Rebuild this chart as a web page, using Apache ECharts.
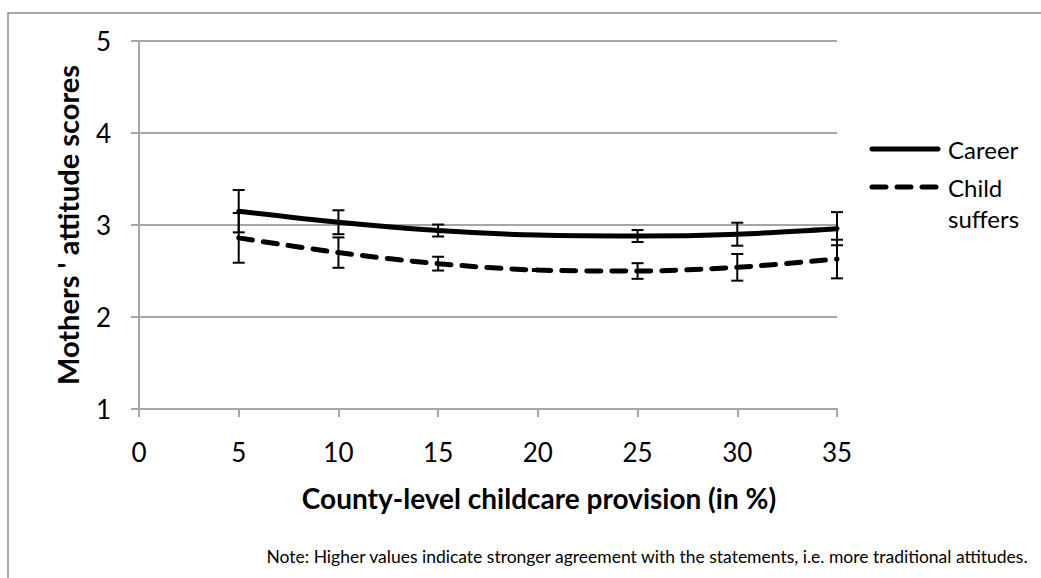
<!DOCTYPE html>
<html>
<head>
<meta charset="utf-8">
<script src="https://cdn.jsdelivr.net/npm/echarts@6/dist/echarts.min.js"></script>
<style>
  html, body { margin: 0; padding: 0; background: #fff; }
  #chart { width: 1041px; height: 578px; }
</style>
</head>
<body>
<div id="chart"></div>
<script>
// Childcare provision (%) on the x axis
const provision = [5, 10, 15, 20, 25, 30, 35];

// Mean attitude scores and half-widths of their confidence intervals
const careerMean = [3.15, 3.03, 2.94, 2.89, 2.88, 2.90, 2.96];
const careerErr  = [0.23, 0.13, 0.065, 0.01, 0.065, 0.125, 0.18];
const childMean  = [2.86, 2.70, 2.58, 2.51, 2.50, 2.54, 2.63];
const childErr   = [0.27, 0.165, 0.075, 0.01, 0.085, 0.145, 0.21];

const xTicks = { min: 0, max: 35, interval: 5 };
const yTicks = { min: 1, max: 5, interval: 1 };

const seriesNames = ['Career', 'Child suffers'];
const yTitle = "Mothers ' attitude scores";
const xTitle = 'County-level childcare provision (in %)';
const note = 'Note: Higher values indicate stronger agreement with the statements, i.e. more traditional attitudes.';

const FONT = 'Lato, "Open Sans", sans-serif';
const GRID_GRAY = '#a6a6a6';

function pairs(xs, ys) { return xs.map((x, i) => [x, ys[i]]); }
function errRows(xs, m, e) { return xs.map((x, i) => [x, m[i] - e[i], m[i] + e[i]]); }

function renderErrorBar(params, api) {
  const x = api.value(0);
  const lo = api.coord([x, api.value(1)]);
  const hi = api.coord([x, api.value(2)]);
  const half = 6;
  const style = { stroke: '#000', lineWidth: 2 };
  return {
    type: 'group',
    children: [
      { type: 'line', shape: { x1: lo[0], y1: lo[1], x2: hi[0], y2: hi[1] }, style },
      { type: 'line', shape: { x1: lo[0] - half, y1: lo[1], x2: lo[0] + half, y2: lo[1] }, style },
      { type: 'line', shape: { x1: hi[0] - half, y1: hi[1], x2: hi[0] + half, y2: hi[1] }, style }
    ]
  };
}

const chart = echarts.init(document.getElementById('chart'), null, { renderer: 'svg' });

chart.setOption({
  animation: false,
  backgroundColor: '#fff',
  grid: { left: 139, top: 41, width: 698, height: 368, containLabel: false },
  xAxis: {
    type: 'value',
    min: xTicks.min, max: xTicks.max, interval: xTicks.interval,
    axisLine: { show: true, lineStyle: { color: GRID_GRAY, width: 2 } },
    axisTick: { show: true, length: 8, lineStyle: { color: GRID_GRAY, width: 2 } },
    splitLine: { show: false },
    axisLabel: { margin: 30, color: '#000', fontSize: 26, fontFamily: FONT }
  },
  yAxis: {
    type: 'value',
    min: yTicks.min, max: yTicks.max, interval: yTicks.interval,
    axisLine: { show: true, lineStyle: { color: GRID_GRAY, width: 2 } },
    axisTick: { show: true, length: 8, lineStyle: { color: GRID_GRAY, width: 2 } },
    splitLine: { show: true, lineStyle: { color: GRID_GRAY, width: 2 } },
    axisLabel: { margin: 28, color: '#000', fontSize: 26, fontFamily: FONT }
  },
  series: [
    {
      name: seriesNames[0], type: 'line', data: pairs(provision, careerMean),
      showSymbol: false, symbol: 'none', smooth: 0.3, z: 3,
      lineStyle: { color: '#000', width: 5, cap: 'round' }
    },
    {
      name: seriesNames[1], type: 'line', data: pairs(provision, childMean),
      showSymbol: false, symbol: 'none', smooth: 0.3, z: 3,
      lineStyle: { color: '#000', width: 5, type: [14, 11], cap: 'round' }
    },
    {
      type: 'custom', renderItem: renderErrorBar, z: 4,
      data: errRows(provision, careerMean, careerErr)
    },
    {
      type: 'custom', renderItem: renderErrorBar, z: 4,
      data: errRows(provision, childMean, childErr)
    }
  ],
  graphic: [
    { type: 'rect', silent: true, shape: { x: 8, y: 13, width: 1100, height: 700 },
      style: { fill: 'none', stroke: '#8c8c8c', lineWidth: 1.5 } },
    { type: 'text', x: 67, y: 225, rotation: Math.PI / 2,
      style: { text: yTitle, font: 'bold 29px ' + FONT, fill: '#000', align: 'center', verticalAlign: 'middle' } },
    { type: 'text', x: 539, y: 498,
      style: { text: xTitle, font: 'bold 28px ' + FONT, fill: '#000', align: 'center', verticalAlign: 'middle' } },
    { type: 'text', x: 647, y: 556,
      style: { text: note, font: '17.5px ' + FONT, fill: '#000', align: 'center', verticalAlign: 'middle' } },
    // legend
    { type: 'line', shape: { x1: 872, y1: 149, x2: 938, y2: 149 },
      style: { stroke: '#000', lineWidth: 5, lineCap: 'round' } },
    { type: 'text', x: 948, y: 149,
      style: { text: seriesNames[0], font: '24px ' + FONT, fill: '#000', verticalAlign: 'middle' } },
    { type: 'line', shape: { x1: 872, y1: 187, x2: 938, y2: 187 },
      style: { stroke: '#000', lineWidth: 5, lineCap: 'round', lineDash: [14, 11] } },
    { type: 'text', x: 948, y: 187,
      style: { text: 'Child', font: '24px ' + FONT, fill: '#000', verticalAlign: 'middle' } },
    { type: 'text', x: 948, y: 218,
      style: { text: 'suffers', font: '24px ' + FONT, fill: '#000', verticalAlign: 'middle' } }
  ]
});
</script>
</body>
</html>
